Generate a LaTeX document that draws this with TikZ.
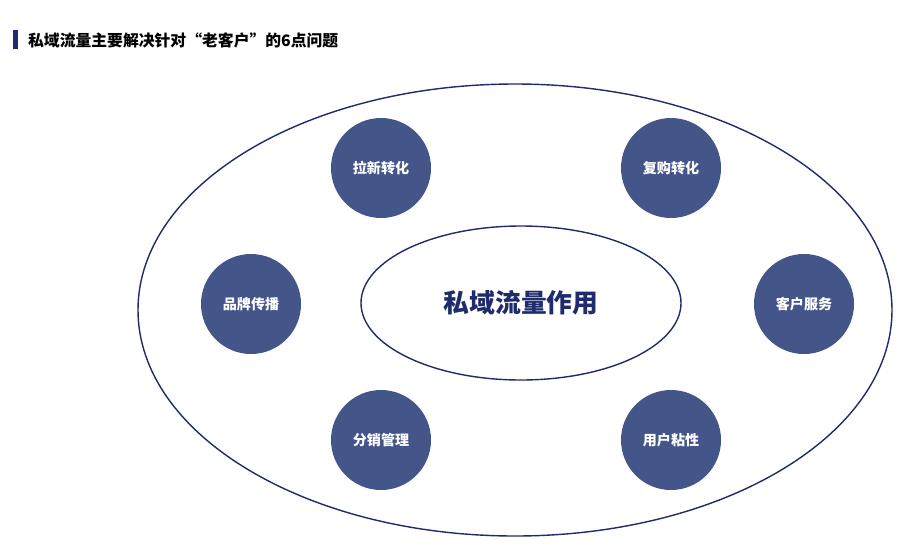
\documentclass[tikz,border=0pt]{standalone}
\usepackage{fontspec}
\setmainfont{Noto Sans CJK SC}
\usetikzlibrary{positioning}
\definecolor{navy}{HTML}{1F2B6B}
\definecolor{dot}{HTML}{44558A}

\begin{document}
\begin{tikzpicture}[x=0.03cm,y=-0.03cm,
        item/.style={circle,fill=dot,minimum size=3cm,inner sep=0pt,
          text=white,font=\fontsize{12}{14}\selectfont\bfseries}]
  \useasboundingbox (0,0) rectangle (924,551);

  % title
  \fill[navy] (13,30) rectangle (18,49);
  \node[anchor=west,font=\fontsize{13.5}{16}\selectfont\bfseries] (title) at (24,40)
    {私域流量主要解决针对“老客户”的6点问题};

  % rings
  \draw[navy,line width=1.2pt] (515,310) ellipse [x radius=377,y radius=226];
  \coordinate (core) at (521,303);
  \draw[navy,line width=1.2pt] (core) ellipse [x radius=160,y radius=77];
  \node[text=navy,font=\fontsize{22}{26}\selectfont\bfseries] (corelabel) at (core) {私域流量作用};

  % six points
  \node[item] (lx) at (381,168) {拉新转化};
  \node[item] (fg) at (671,168) {复购转化};
  \node[item] (pp) at (251,304) {品牌传播};
  \node[item] (kh) at (804,304) {客户服务};
  \node[item] (fx) at (381,440) {分销管理};
  \node[item] (yh) at (671,440) {用户粘性};
\end{tikzpicture}
\end{document}
